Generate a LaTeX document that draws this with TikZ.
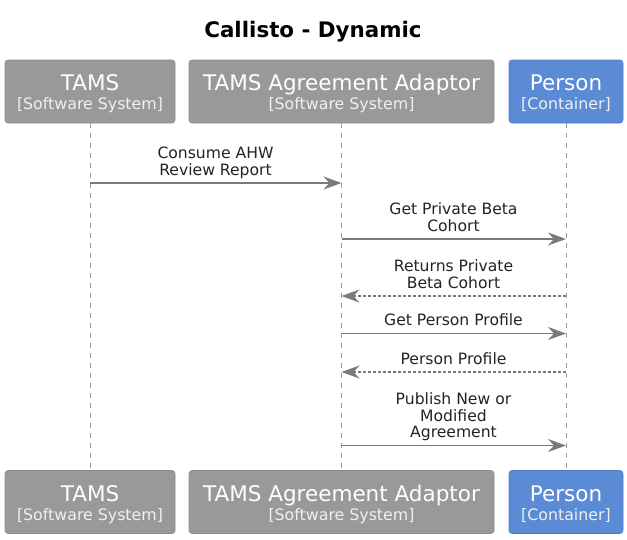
\documentclass[tikz,border=0pt]{standalone}
\usepackage{fontspec}
\setmainfont{DejaVu Sans}
\usetikzlibrary{arrows.meta}
\definecolor{sysgray}{HTML}{999999}
\definecolor{sysgrayd}{HTML}{8C8C8C}
\definecolor{contblue}{HTML}{5B8BD4}
\definecolor{contblued}{HTML}{4E7EC6}
\definecolor{msgline}{HTML}{7A7A7A}
\definecolor{lifegray}{HTML}{9A9A9A}
\definecolor{msgtext}{HTML}{222222}
\begin{document}
\begin{tikzpicture}[x=1pt,y=-1pt,
  sysbox/.style={draw=sysgrayd, fill=sysgray, rounded corners=3pt, line width=0.6pt, inner sep=0pt, minimum height=63pt},
  contbox/.style={draw=contblued, fill=contblue, rounded corners=3pt, line width=0.6pt, inner sep=0pt, minimum height=63pt},
  boxtitle/.style={anchor=base, inner sep=0pt, text=white, font=\fontsize{21.5}{24}\selectfont},
  boxsub/.style={anchor=base, inner sep=0pt, text=white!94!black, font=\fontsize{15.8}{18}\selectfont},
  lifeline/.style={draw=lifegray, line width=0.9pt, dash pattern=on 5pt off 5pt},
  msgarrow/.style={draw=msgline, line width=1.4pt, -{Stealth[length=18pt,width=13pt,inset=6pt]}},
  retarrow/.style={msgarrow, dash pattern=on 3pt off 2pt},
  msglabel/.style={anchor=south, inner sep=0pt, align=center, text=msgtext, font=\fontsize{15.6}{16.5}\selectfont}
]
\useasboundingbox (0,0) rectangle (627,539);

% title
\node[anchor=base, inner sep=0pt, font=\fontsize{21.4}{24}\selectfont\bfseries] (title) at (313,37) {Callisto - Dynamic};

% top boxes
\node[sysbox, minimum width=170pt] (tamsT) at (90,91.5) {};
\node[boxtitle] (tamsTt) at (90,90) {TAMS};
\node[boxsub] (tamsTs) at (90,109) {[Software System]};
\node[sysbox, minimum width=305pt] (adapT) at (341.5,91.5) {};
\node[boxtitle] (adapTt) at (341.5,90) {TAMS Agreement Adaptor};
\node[boxsub] (adapTs) at (341.5,109) {[Software System]};
\node[contbox, minimum width=114pt] (persT) at (566,91.5) {};
\node[boxtitle] (persTt) at (566,90) {Person};
\node[boxsub] (persTs) at (566,109) {[Container]};

% bottom boxes
\node[sysbox, minimum width=170pt] (tamsB) at (90,502) {};
\node[boxtitle] (tamsBt) at (90,501) {TAMS};
\node[boxsub] (tamsBs) at (90,520) {[Software System]};
\node[sysbox, minimum width=305pt] (adapB) at (341.5,502) {};
\node[boxtitle] (adapBt) at (341.5,501) {TAMS Agreement Adaptor};
\node[boxsub] (adapBs) at (341.5,520) {[Software System]};
\node[contbox, minimum width=114pt] (persB) at (566,502) {};
\node[boxtitle] (persBt) at (566,501) {Person};
\node[boxsub] (persBs) at (566,520) {[Container]};

% lifelines
\draw[lifeline] (tamsT.south) -- (tamsB.north);
\draw[lifeline] (adapT.south) -- (adapB.north);
\draw[lifeline] (persT.south) -- (persB.north);

% message end points on lifelines
\coordinate (m1a) at (90,183);   \coordinate (m1b) at (341.5,183);
\coordinate (m2a) at (341.5,239); \coordinate (m2b) at (566,239);
\coordinate (m3a) at (566,296);  \coordinate (m3b) at (341.5,296);
\coordinate (m4a) at (341.5,333.5); \coordinate (m4b) at (566,333.5);
\coordinate (m5a) at (566,372);  \coordinate (m5b) at (341.5,372);
\coordinate (m6a) at (341.5,445.5); \coordinate (m6b) at (566,445.5);

\draw[msgarrow] (m1a) -- (m1b);
\draw[msgarrow] (m2a) -- (m2b);
\draw[retarrow] (m3a) -- (m3b);
\draw[msgarrow] (m4a) -- (m4b);
\draw[retarrow] (m5a) -- (m5b);
\draw[msgarrow] (m6a) -- (m6b);

% labels (last baseline ~7.5 above the arrow; \strut depth = 0.3*16.5)
\node[msglabel] (l1) at (215.5,180.5) {Consume AHW\\Review Report\strut};
\node[msglabel] (l2) at (453.5,236.5) {Get Private Beta\\Cohort\strut};
\node[msglabel] (l3) at (453.5,293.5) {Returns Private\\Beta Cohort\strut};
\node[msglabel] (l4) at (453.5,331) {Get Person Profile\strut};
\node[msglabel] (l5) at (453.5,369.5) {Person Profile\strut};
\node[msglabel] (l6) at (453.5,443) {Publish New or\\Modified\\Agreement\strut};
\end{tikzpicture}
\end{document}
